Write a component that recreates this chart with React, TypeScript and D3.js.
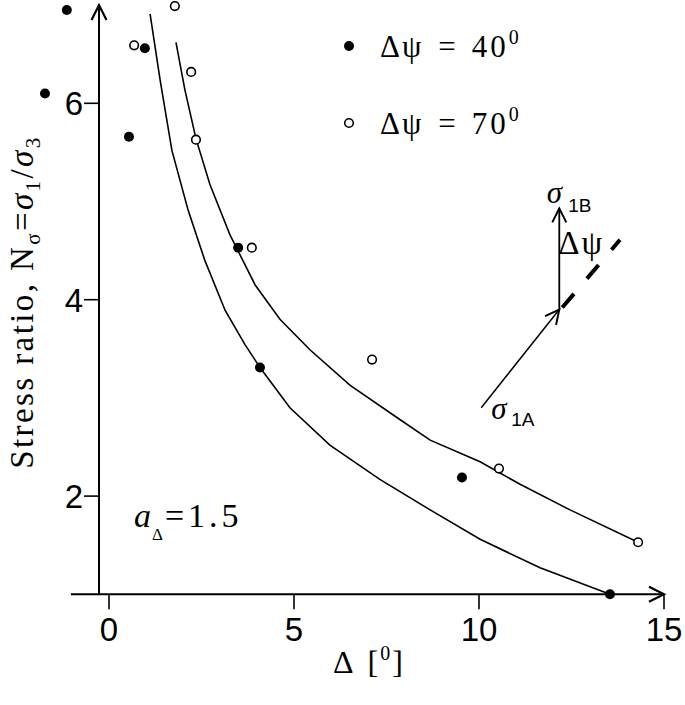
import React from 'react';
import * as d3 from 'd3';

// Δψ = 40° (filled markers)
const filledX = [-1.14, -1.73, 0.54, 0.97, 3.49, 4.08, 9.54, 13.54];
const filledY = [6.95, 6.1, 5.66, 6.56, 4.53, 3.31, 2.19, 1.0];
// Δψ = 70° (open markers)
const openX = [1.78, 0.68, 2.22, 2.35, 3.86, 7.11, 10.54, 14.3];
const openY = [6.99, 6.59, 6.32, 5.63, 4.53, 3.39, 2.28, 1.53];

// fitted curves
const lowerX = [1.11, 1.38, 1.7, 2.14, 2.59, 3.14, 3.68, 4.08, 4.89, 5.97, 7.32, 8.68, 10.03, 11.65, 13.54];
const lowerY = [6.91, 6.24, 5.52, 4.91, 4.4, 3.89, 3.54, 3.31, 2.9, 2.52, 2.17, 1.86, 1.56, 1.27, 1.0];
const upperX = [1.81, 2.05, 2.35, 2.73, 3.27, 3.95, 4.62, 5.43, 6.51, 7.86, 8.68, 10.03, 11.11, 12.46, 14.3];
const upperY = [6.62, 6.14, 5.64, 5.17, 4.66, 4.15, 3.8, 3.49, 3.13, 2.78, 2.57, 2.35, 2.12, 1.86, 1.53];

const xTicks = [0, 5, 10, 15];
const yTicks = [2, 4, 6];

const W = 685;
const H = 705;
const serif = '"Liberation Serif", "DejaVu Serif", serif';
const sans = '"Liberation Sans", Arial, sans-serif';

export default function App() {
  const x = d3.scaleLinear().domain([0, 15]).range([109, 664]);
  const y = d3.scaleLinear().domain([1, 7]).range([594.3, 5.1]);

  const yAxisX = x(-0.27);
  const xAxisStart = x(-1.03);
  const x0 = y(1);

  const line = d3.line<[number, number]>()
    .x(d => x(d[0]))
    .y(d => y(d[1]));
  const lower = line(lowerX.map((v, i) => [v, lowerY[i]]));
  const upper = line(upperX.map((v, i) => [v, upperY[i]]));

  // inset diagram (in data units)
  const aStart: [number, number] = [10.06, 2.9];
  const aJoin: [number, number] = [12.17, 3.9];
  const aTop: [number, number] = [12.17, 4.93];
  const dashA: [number, number] = [12.25, 3.92];
  const dashB: [number, number] = [13.81, 4.61];

  const chevron = (tipX: number, tipY: number, angle: number, len = 15, half = 7.5) => {
    const bx = tipX - len * Math.cos(angle);
    const by = tipY - len * Math.sin(angle);
    const px = -Math.sin(angle) * half;
    const py = Math.cos(angle) * half;
    return `M${bx + px},${by + py}L${tipX},${tipY}L${bx - px},${by - py}`;
  };

  const ax = x(aStart[0]), ay = y(aStart[1]);
  const jx = x(aJoin[0]), jy = y(aJoin[1]);
  const tx = x(aTop[0]), ty = y(aTop[1]);
  const diagAngle = Math.atan2(jy - ay, jx - ax);

  const legendText = (label: string, yy: number) => (
    <text x={380} y={yy} fontFamily={serif} fontSize={31}>
      Δ<tspan dx={2}>ψ</tspan><tspan dx={17}>=</tspan><tspan dx={16} letterSpacing={3}>{label}</tspan>
      <tspan fontSize={20} dy={-13}>0</tspan>
    </text>
  );

  return (
    <svg width={W} height={H} style={{ position: 'absolute', left: 0, top: 0, background: '#fff' }}>
      {/* axes */}
      <line x1={yAxisX} y1={x0} x2={yAxisX} y2={y(7)} stroke="#000" strokeWidth={2} />
      <path d={chevron(yAxisX, y(7), -Math.PI / 2)} fill="none" stroke="#000" strokeWidth={2.2} />
      <line x1={xAxisStart} y1={x0} x2={x(15)} y2={x0} stroke="#000" strokeWidth={2} />
      <path d={chevron(x(15), x0, 0)} fill="none" stroke="#000" strokeWidth={2.2} />

      {xTicks.map(t => (
        <g key={'x' + t}>
          <line x1={x(t)} y1={x0} x2={x(t)} y2={x0 + 15} stroke="#000" strokeWidth={1.6} />
          <text x={x(t)} y={x0 + 47} textAnchor="middle" fontFamily={sans} fontSize={33}>{t}</text>
        </g>
      ))}
      {yTicks.map(t => (
        <g key={'y' + t}>
          <line x1={yAxisX - 15} y1={y(t)} x2={yAxisX} y2={y(t)} stroke="#000" strokeWidth={1.6} />
          <text x={yAxisX - 16} y={y(t) + 12} textAnchor="end" fontFamily={sans} fontSize={33}>{t}</text>
        </g>
      ))}

      {/* axis titles */}
      <text transform={`translate(33, 302) rotate(-90)`} textAnchor="middle" fontFamily={serif} fontSize={33} letterSpacing={2.4}>
        Stress ratio, N<tspan fontSize={21} dy={7}>σ</tspan><tspan dy={-7}>=</tspan><tspan fontStyle="italic">σ</tspan>
        <tspan fontSize={21} dy={7}>1</tspan><tspan dy={-7}>/</tspan><tspan fontStyle="italic">σ</tspan>
        <tspan fontSize={21} dy={7}>3</tspan>
      </text>
      <text x={333} y={673} fontFamily={serif} fontSize={32}>
        Δ<tspan dx={14}>[</tspan><tspan fontSize={20} dx={2} dy={-13}>0</tspan><tspan dx={2} dy={13}>]</tspan>
      </text>

      {/* curves */}
      <path d={lower ?? ''} fill="none" stroke="#000" strokeWidth={1.6} />
      <path d={upper ?? ''} fill="none" stroke="#000" strokeWidth={1.6} />

      {/* markers */}
      {filledX.map((v, i) => (
        <circle key={'f' + i} cx={x(v)} cy={y(filledY[i])} r={5} fill="#000" />
      ))}
      {openX.map((v, i) => (
        <circle key={'o' + i} cx={x(v)} cy={y(openY[i])} r={4.3} fill="#fff" stroke="#000" strokeWidth={1.6} />
      ))}

      {/* legend */}
      <circle cx={349} cy={46} r={5} fill="#000" />
      {legendText('40', 57)}
      <circle cx={349} cy={123} r={4.3} fill="#fff" stroke="#000" strokeWidth={1.6} />
      {legendText('70', 134)}

      {/* a_Δ annotation */}
      <text x={134} y={527} fontFamily={serif} fontSize={34}>
        <tspan fontStyle="italic">a</tspan><tspan fontSize={17} dx={1} dy={13}>Δ</tspan>
        <tspan dx={2} dy={-13} letterSpacing={4}>=1.5</tspan>
      </text>

      {/* inset diagram */}
      <line x1={ax} y1={ay} x2={jx} y2={jy} stroke="#000" strokeWidth={1.5} />
      <path d={chevron(jx, jy, diagAngle, 14, 7)} fill="none" stroke="#000" strokeWidth={2} />
      <line x1={jx} y1={jy} x2={tx} y2={ty} stroke="#000" strokeWidth={1.8} />
      <path d={chevron(tx, ty, -Math.PI / 2, 14, 7)} fill="none" stroke="#000" strokeWidth={2} />
      <line x1={x(dashA[0])} y1={y(dashA[1])} x2={x(dashB[0])} y2={y(dashB[1])}
        stroke="#000" strokeWidth={4} strokeDasharray="18 20" />
      <text x={x(11.83)} y={y(4.98)} fontFamily={serif} fontStyle="italic" fontSize={31}>σ</text>
      <text x={x(12.41)} y={y(4.89)} fontFamily={sans} fontSize={19}>1B</text>
      <text x={x(12.14)} y={y(4.47)} fontFamily={serif} fontSize={33}>
        Δ<tspan dx={2}>ψ</tspan>
      </text>
      <text x={x(10.33)} y={y(2.79)} fontFamily={serif} fontStyle="italic" fontSize={31}>σ</text>
      <text x={x(10.87)} y={y(2.71)} fontFamily={sans} fontSize={19}>1A</text>
    </svg>
  );
}
